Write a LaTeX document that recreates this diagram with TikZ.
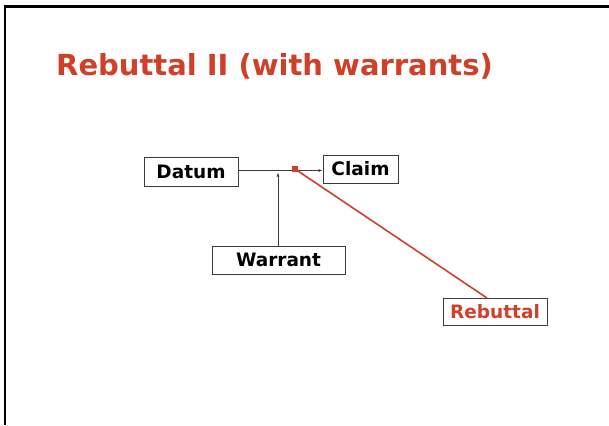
\documentclass[tikz,border=0pt]{standalone}
\usepackage{fontspec}
\setmainfont{DejaVu Sans}
\usetikzlibrary{arrows.meta}
\definecolor{slidered}{RGB}{208,64,40}
\definecolor{linegray}{RGB}{60,60,60}
\tikzset{
  box/.style={draw=linegray, line width=0.9pt, fill=white, inner sep=0pt, font=\bfseries\fontsize{18.5}{20}\selectfont, text=black},
  conn/.style={draw=linegray, line width=0.8pt, -{Latex[length=4pt,width=3pt]}},
}
\begin{document}
\begin{tikzpicture}[x=1pt,y=-1pt]
\useasboundingbox (0,0) rectangle (609,425);
% slide frame
\draw[line width=2.8pt, black] (5,425) -- (5,6.5) -- (609,6.5);
% title
\node[anchor=base west, inner sep=0pt, text=slidered, font=\bfseries\fontsize{29}{34}\selectfont] (title) at (56,76) {Rebuttal II (with warrants)};
% boxes
\node[box, minimum width=94pt, minimum height=29pt] (datum) at (191,171.5) {Datum};
\node[box, minimum width=75pt, minimum height=28pt] (claim) at (360.5,169) {Claim};
\node[box, minimum width=133pt, minimum height=28pt] (warrant) at (278.5,260) {Warrant};
\node[box, minimum width=104pt, minimum height=27pt, text=slidered] (rebuttal) at (495,311.5) {Rebuttal};
% connectors
\coordinate (wtip) at (278,172.5);
\coordinate (rsq) at (295,169);
\coordinate (rend) at (487,298);
\draw[conn] (datum.east |- 0,170.5) -- (claim.west |- 0,170.5);
\draw[conn] (warrant.north -| wtip) -- (wtip);
\draw[slidered, line width=1.6pt] (rsq) -- (rend);
\node[fill=slidered, minimum size=6pt, inner sep=0pt] (sq) at (rsq) {};
\end{tikzpicture}
\end{document}
